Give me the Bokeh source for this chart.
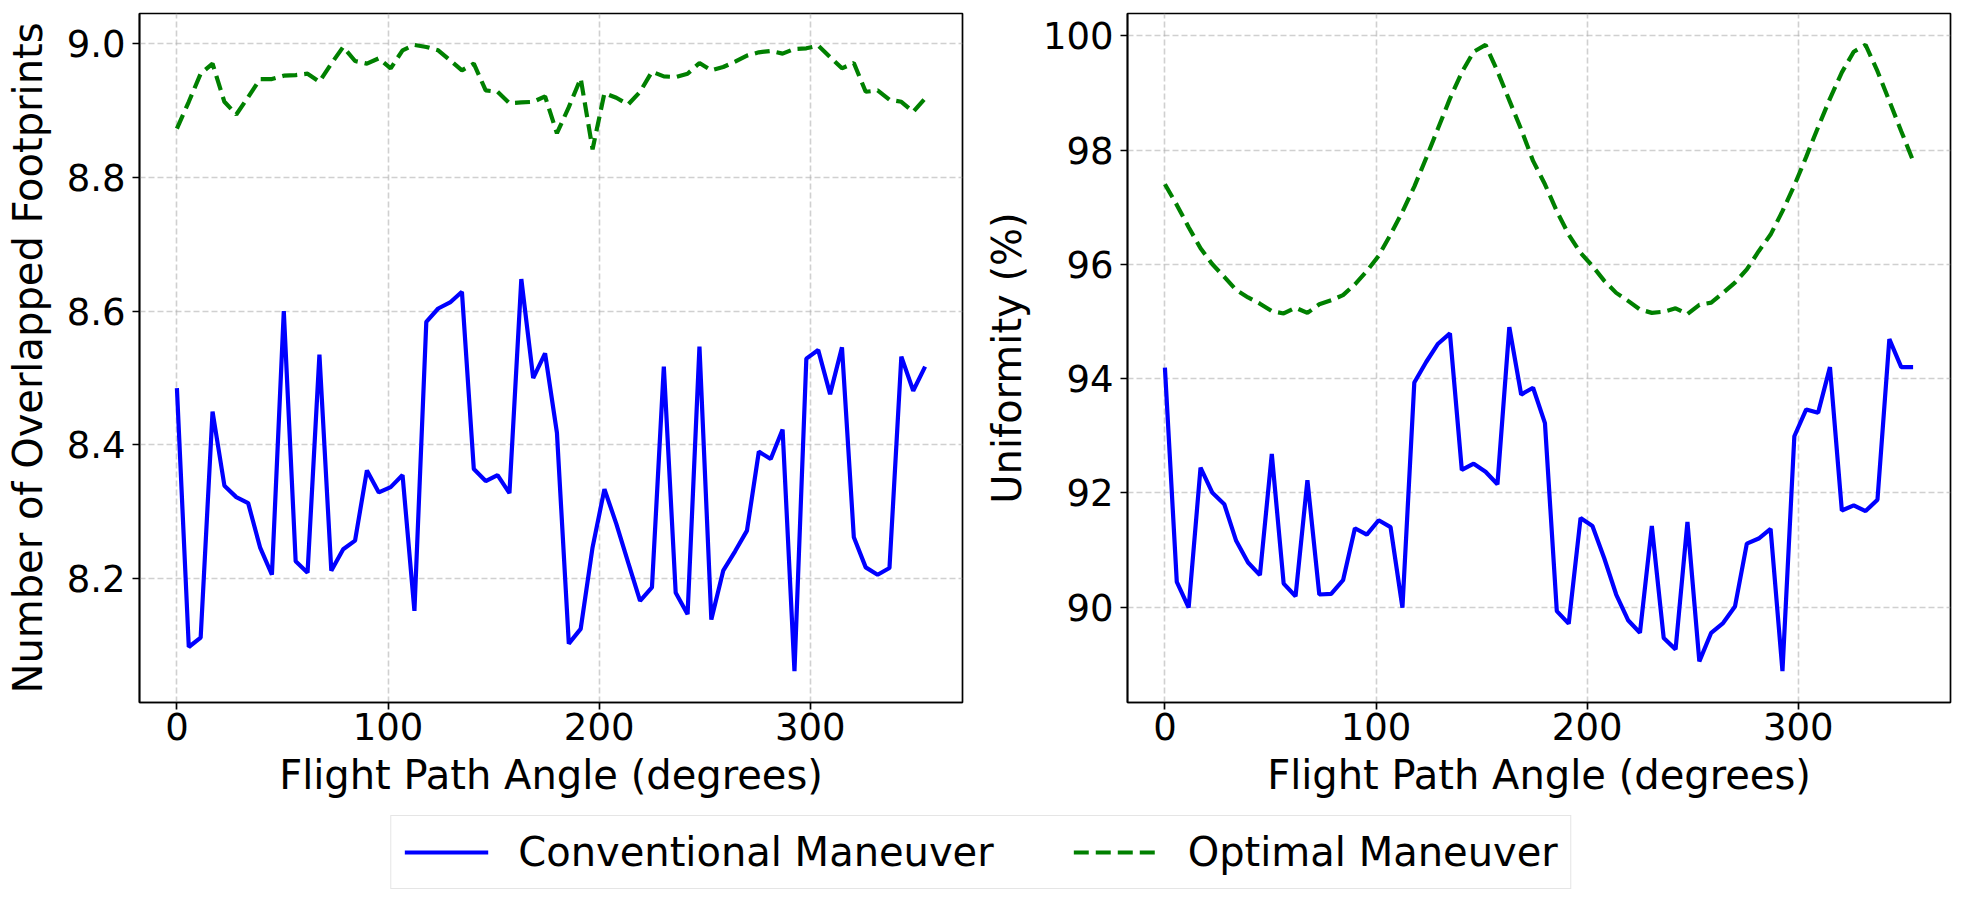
from bokeh.plotting import figure
from bokeh.models import Range1d, FixedTicker, Legend, LegendItem, PrintfTickFormatter
from bokeh.layouts import row, column
from bokeh.embed import file_html
from bokeh.resources import INLINE

angles = [0, 5.625, 11.25, 16.875, 22.5, 28.125, 33.75, 39.375, 45, 50.625, 56.25, 61.875,
          67.5, 73.125, 78.75, 84.375, 90, 95.625, 101.25, 106.875, 112.5, 118.125, 123.75,
          129.375, 135, 140.625, 146.25, 151.875, 157.5, 163.125, 168.75, 174.375, 180,
          185.625, 191.25, 196.875, 202.5, 208.125, 213.75, 219.375, 225, 230.625, 236.25,
          241.875, 247.5, 253.125, 258.75, 264.375, 270, 275.625, 281.25, 286.875, 292.5,
          298.125, 303.75, 309.375, 315, 320.625, 326.25, 331.875, 337.5, 343.125, 348.75,
          354.375]

footprints_conventional = [
    8.485, 8.098, 8.112, 8.450, 8.339, 8.322, 8.313, 8.247, 8.206, 8.600, 8.226, 8.209,
    8.535, 8.212, 8.244, 8.257, 8.362, 8.329, 8.337, 8.355, 8.152, 8.584, 8.604, 8.613,
    8.629, 8.364, 8.346, 8.355, 8.328, 8.648, 8.500, 8.537, 8.418, 8.103, 8.125, 8.247,
    8.334, 8.282, 8.224, 8.167, 8.187, 8.517, 8.179, 8.147, 8.547, 8.139, 8.212, 8.241,
    8.272, 8.390, 8.379, 8.423, 8.062, 8.529, 8.542, 8.476, 8.546, 8.262, 8.217, 8.206,
    8.216, 8.532, 8.481, 8.517]

footprints_optimal = [
    8.873, 8.913, 8.955, 8.970, 8.913, 8.894, 8.920, 8.947, 8.947, 8.952, 8.953, 8.955,
    8.943, 8.970, 8.995, 8.974, 8.970, 8.978, 8.963, 8.990, 8.998, 8.995, 8.990, 8.975,
    8.960, 8.970, 8.930, 8.928, 8.911, 8.912, 8.913, 8.921, 8.866, 8.905, 8.948, 8.842,
    8.926, 8.919, 8.909, 8.928, 8.958, 8.951, 8.950, 8.955, 8.971, 8.960, 8.965, 8.973,
    8.982, 8.987, 8.989, 8.985, 8.992, 8.993, 8.997, 8.980, 8.963, 8.971, 8.928, 8.930,
    8.916, 8.913, 8.898, 8.918]

uniformity_conventional = [
    94.19, 90.44, 89.99, 92.44, 92.00, 91.80, 91.16, 90.78, 90.56, 92.68, 90.41, 90.19,
    92.22, 90.22, 90.23, 90.47, 91.38, 91.27, 91.52, 91.40, 89.99, 93.93, 94.29, 94.61,
    94.79, 92.40, 92.51, 92.37, 92.15, 94.90, 93.72, 93.84, 93.22, 89.93, 89.71, 91.56,
    91.42, 90.85, 90.22, 89.77, 89.55, 91.42, 89.46, 89.26, 91.49, 89.05, 89.55, 89.72,
    90.01, 91.11, 91.20, 91.37, 88.88, 92.99, 93.46, 93.40, 94.20, 91.69, 91.78, 91.68,
    91.88, 94.69, 94.20, 94.20]

uniformity_optimal = [
    97.40, 97.04, 96.65, 96.28, 96.00, 95.78, 95.55, 95.42, 95.31, 95.18, 95.14, 95.24,
    95.15, 95.30, 95.37, 95.46, 95.65, 95.88, 96.15, 96.52, 96.92, 97.36, 97.86, 98.38,
    98.90, 99.36, 99.72, 99.84, 99.38, 98.87, 98.36, 97.81, 97.40, 96.93, 96.52, 96.20,
    95.97, 95.71, 95.50, 95.36, 95.21, 95.15, 95.17, 95.23, 95.13, 95.29, 95.33, 95.50,
    95.68, 95.91, 96.23, 96.52, 96.93, 97.38, 97.88, 98.40, 98.90, 99.36, 99.72, 99.84,
    99.38, 98.86, 98.33, 97.81]

x_ticks = [0, 100, 200, 300]
left_y_ticks = [8.2, 8.4, 8.6, 8.8, 9.0]
right_y_ticks = [90, 92, 94, 96, 98, 100]

x_label = "Flight Path Angle (degrees)"
left_y_label = "Number of Overlapped Footprints"
right_y_label = "Uniformity (%)"
label_conv = "Conventional Maneuver"
label_opt = "Optimal Maneuver"

FONT = "DejaVu Sans"
BLUE = "#0000ff"
GREEN = "#008000"
DASH = "15 7"
LW = 4.2


def style(p, yticks, yfmt, ylabel_standoff):
    p.background_fill_color = "white"
    p.border_fill_color = "white"
    p.outline_line_color = "black"
    p.outline_line_width = 1.7
    p.xaxis.ticker = FixedTicker(ticks=x_ticks)
    p.yaxis.ticker = FixedTicker(ticks=yticks)
    p.yaxis.formatter = PrintfTickFormatter(format=yfmt)
    for ax in (p.xaxis[0], p.yaxis[0]):
        ax.axis_line_color = "black"
        ax.axis_line_width = 1.7
        ax.major_tick_line_color = "black"
        ax.major_tick_line_width = 1.7
        ax.major_tick_out = 7
        ax.major_tick_in = 0
        ax.minor_tick_line_color = None
        ax.major_label_text_font = FONT
        ax.major_label_text_font_size = "37px"
        ax.major_label_text_color = "black"
        ax.major_label_standoff = 7
        ax.axis_label_text_font = FONT
        ax.axis_label_text_font_size = "40px"
        ax.axis_label_text_font_style = "normal"
        ax.axis_label_text_color = "black"
        ax.axis_label_standoff = 10
    p.xaxis[0].major_label_standoff = 3
    p.xaxis[0].axis_label_standoff = 9
    p.yaxis[0].axis_label_standoff = ylabel_standoff
    p.xgrid[0].ticker = p.xaxis[0].ticker
    p.ygrid[0].ticker = p.yaxis[0].ticker
    for g in (p.xgrid[0], p.ygrid[0]):
        g.grid_line_color = "#b0b0b0"
        g.grid_line_alpha = 0.6
        g.grid_line_dash = "6 3"
        g.grid_line_width = 1.6


p1 = figure(width=972, height=815, output_backend="svg", toolbar_location=None,
            x_range=Range1d(-17.72, 372.09), y_range=Range1d(8.015, 9.045),
            min_border_left=139, min_border_right=10, min_border_top=13, min_border_bottom=113,
            x_axis_label=x_label, y_axis_label=left_y_label)
p1.line(angles, footprints_conventional, line_color=BLUE, line_width=LW)
p1.line(angles, footprints_optimal, line_color=GREEN, line_width=LW, line_dash=DASH)
style(p1, left_y_ticks, "%.1f", 13)

p2 = figure(width=990, height=815, output_backend="svg", toolbar_location=None,
            x_range=Range1d(-17.72, 372.09), y_range=Range1d(88.33, 100.39),
            min_border_left=155, min_border_right=12, min_border_top=13, min_border_bottom=113,
            x_axis_label=x_label, y_axis_label=right_y_label)
p2.line(angles, uniformity_conventional, line_color=BLUE, line_width=LW)
p2.line(angles, uniformity_optimal, line_color=GREEN, line_width=LW, line_dash=DASH)
style(p2, right_y_ticks, "%d", 10)

# legend figure (its lines lie outside its visible range; only the legend shows)
p3 = figure(width=1962, height=84, output_backend="svg", toolbar_location=None,
            x_range=Range1d(1000, 1001), y_range=Range1d(1000, 1001),
            min_border_left=0, min_border_right=0, min_border_top=0, min_border_bottom=0)
p3.axis.visible = False
p3.grid.visible = False
p3.outline_line_color = None
p3.background_fill_color = "white"
p3.border_fill_color = "white"
r1 = p3.line(angles, footprints_conventional, line_color=BLUE, line_width=LW)
r2 = p3.line(angles, footprints_optimal, line_color=GREEN, line_width=LW, line_dash=DASH)
legend = Legend(items=[LegendItem(label=label_conv, renderers=[r1]),
                       LegendItem(label=label_opt, renderers=[r2])],
                orientation="horizontal", location="top_center",
                label_text_font=FONT, label_text_font_size="40px", label_text_color="black",
                glyph_width=84, glyph_height=40, label_standoff=30, spacing=80,
                padding=13, margin=0,
                border_line_color="#cccccc", border_line_width=1.7,
                background_fill_color="white", background_fill_alpha=1.0)
p3.add_layout(legend)

layout = column(row(p1, p2, spacing=0), p3, spacing=0)

open("out.html", "w").write(file_html(layout, INLINE))
